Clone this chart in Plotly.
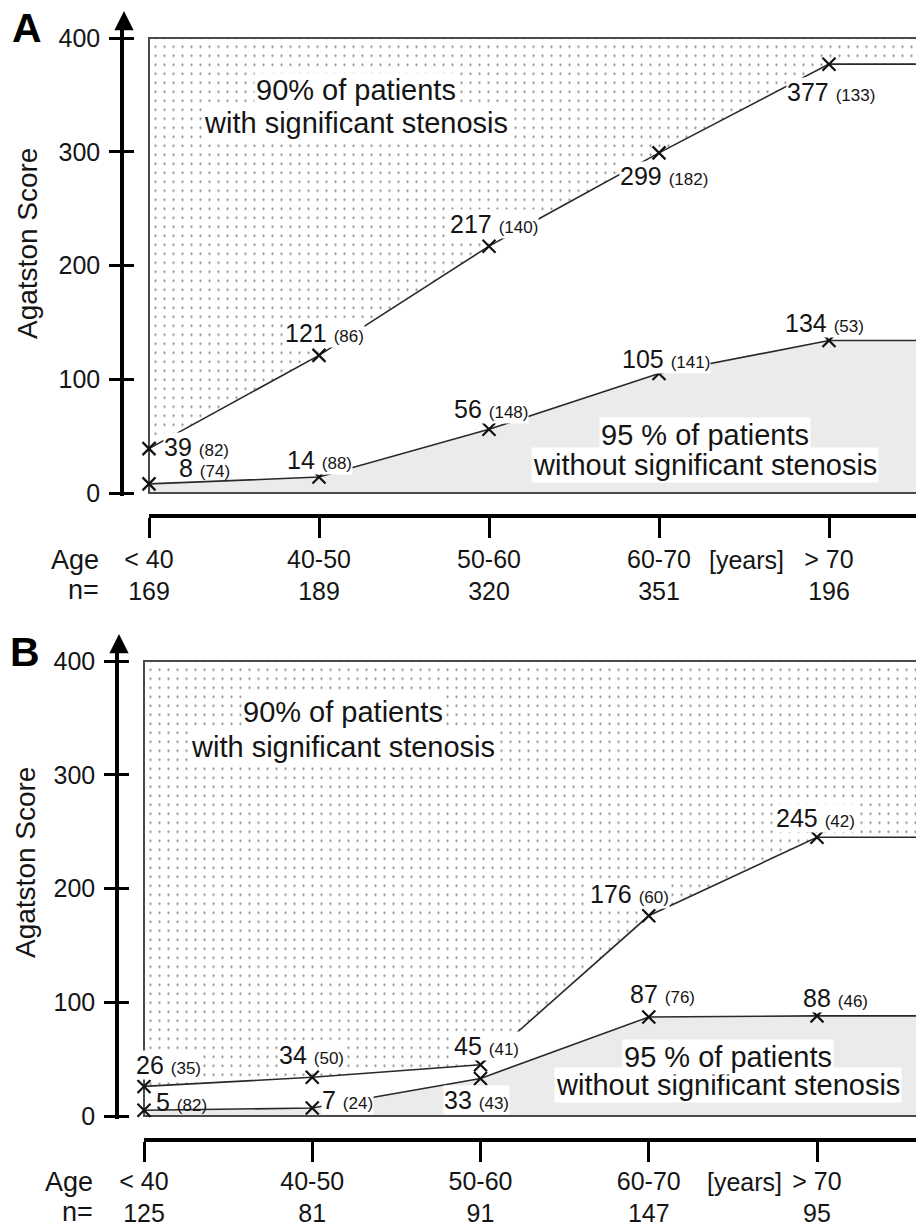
import plotly.graph_objects as go

W, H = 916, 1226

# ---------------- data ----------------
age_groups = ["< 40", "40-50", "50-60", "60-70", "> 70"]
n_a = [169, 189, 320, 351, 196]
n_b = [125, 81, 91, 147, 95]

# panel A: 90th percentile (with stenosis) and 95th percentile (without stenosis)
upper_a = [39, 121, 217, 299, 377]
upper_a_n = [82, 86, 140, 182, 133]
lower_a = [8, 14, 56, 105, 134]
lower_a_n = [74, 88, 148, 141, 53]

# panel B
upper_b = [26, 34, 45, 176, 245]
upper_b_n = [35, 50, 41, 60, 42]
lower_b = [5, 7, 33, 87, 88]
lower_b_n = [82, 24, 43, 76, 46]

y_ticks = [0, 100, 200, 300, 400]
Y_MAX = 400

# ---------------- layout config (pixels) ----------------
FONT = "Liberation Sans"
TXT = "#151515"
K = 1.1375  # px per score unit

panels = [
    dict(letter="A", upper=upper_a, upper_n=upper_a_n, lower=lower_a, lower_n=lower_a_n, n=n_a,
         x0=149, dx=170, axis=124, y0=493, bracket=516, row1=560, row2=590, agex=101,
         yearsx=746, letterxy=(27, 28), titlexy=(27, 244), arrow_tip=11, xlab_standoff=0,
         up_txt=(1.22, 354, 325), lo_txt=(3.27, 51, 24.6),
         off_up=[(14, 2), (-35, 22), (-40, 22), (-40, -23), (-43, -28)],
         off_lo=[(29, 16), (-33, 17), (-36, 20), (-38, 15), (-45, 18)],
         bg_up=[True, True, True, True, True], bg_lo=[False, True, True, True, True],
         xa="x", ya="y", yo="y3", xb="x3"),
    dict(letter="B", upper=upper_b, upper_n=upper_b_n, lower=lower_b, lower_n=lower_b_n, n=n_b,
         x0=144, dx=168.25, axis=119, y0=1116, bracket=1140, row1=1182, row2=1212, agex=95,
         yearsx=744, letterxy=(25, 652), titlexy=(25, 863), arrow_tip=634, xlab_standoff=-2,
         up_txt=(1.18, 355, 324), lo_txt=(3.47, 52, 27),
         off_up=[(-9, 21), (-34, 22), (-28, 19), (-60, 22), (-42, 19)],
         off_lo=[(11, 8), (9, 8), (-38, -22), (-20, 23), (-15, 18)],
         bg_up=[True, True, True, True, True], bg_lo=[False, True, True, True, True],
         xa="x2", ya="y2", yo="y4", xb="x4"),
]

fig = go.Figure()
annotations = []
layout = {}

def lname(ax):
    return ax[0] + "axis" + ax[1:]

for p in panels:
    x_lo = (p["axis"] - p["x0"]) / p["dx"]
    x_hi = (W - p["x0"]) / p["dx"]
    x_end = x_hi + 0.2
    y_lo, y_hi = -3, 412
    dom_top = 1 - (p["y0"] - y_hi * K) / H
    dom_bot = 1 - (p["y0"] - y_lo * K) / H
    xs = list(range(len(age_groups)))
    xa, ya = p["xa"], p["ya"]

    # top boundary (invisible) for the dotted region
    fig.add_trace(go.Scatter(x=[0, x_end], y=[Y_MAX, Y_MAX], mode="lines",
                             line=dict(width=0, color="rgba(0,0,0,0)"),
                             xaxis=xa, yaxis=ya, showlegend=False, hoverinfo="skip"))
    # upper curve with dotted fill above
    fig.add_trace(go.Scatter(x=xs + [x_end], y=p["upper"] + [p["upper"][-1]], mode="lines",
                             line=dict(color="#2a2a2a", width=1.6),
                             fill="tonexty", fillcolor="white",
                             fillpattern=dict(shape=".", fgcolor="#8a8a8a", bgcolor="white",
                                              size=9, solidity=0.05),
                             xaxis=xa, yaxis=ya, showlegend=False, hoverinfo="skip"))
    # lower curve with grey fill below
    fig.add_trace(go.Scatter(x=xs + [x_end], y=p["lower"] + [p["lower"][-1]], mode="lines",
                             line=dict(color="#2a2a2a", width=1.6),
                             fill="tozeroy", fillcolor="#ebebeb",
                             xaxis=xa, yaxis=ya, showlegend=False, hoverinfo="skip"))
    # frame of the plot box
    fig.add_trace(go.Scatter(x=[x_end, 0, 0, x_end], y=[Y_MAX, Y_MAX, 0, 0], mode="lines",
                             line=dict(color="#4a4a4a", width=2),
                             xaxis=xa, yaxis=ya, showlegend=False, hoverinfo="skip"))
    # markers
    fig.add_trace(go.Scatter(x=xs + xs, y=p["upper"] + p["lower"], mode="markers",
                             marker=dict(symbol="x-thin", size=13, color="#111",
                                         line=dict(width=2.2, color="#111")),
                             cliponaxis=False,
                             xaxis=xa, yaxis=ya, showlegend=False, hoverinfo="skip"))
    # helper traces so that the overlay y axis and the bracket x axis exist
    fig.add_trace(go.Scatter(x=[None], y=[None], xaxis=xa, yaxis=p["yo"],
                             showlegend=False, hoverinfo="skip"))
    fig.add_trace(go.Scatter(x=[None], y=[None], xaxis=p["xb"], yaxis=ya,
                             showlegend=False, hoverinfo="skip"))

    layout[lname(xa)] = dict(domain=[p["axis"] / W, 1], range=[x_lo, x_hi], visible=False,
                             anchor=ya, automargin=False)
    layout[lname(ya)] = dict(domain=[dom_bot, dom_top], range=[y_lo, y_hi], anchor=xa,
                             showline=True, linewidth=3.5, linecolor="black",
                             ticks="outside", ticklen=11, tickwidth=3, tickcolor="black",
                             tickvals=y_ticks, tickfont=dict(family=FONT, size=25, color=TXT),
                             ticklabelstandoff=4, automargin=False,
                             showgrid=False, zeroline=False)
    layout[lname(p["yo"])] = dict(overlaying=ya, anchor=xa, side="left", range=[y_lo, y_hi],
                                  ticks="inside", ticklen=10, tickwidth=3, tickcolor="black",
                                  tickvals=y_ticks, showticklabels=False, showline=False,
                                  showgrid=False, zeroline=False, automargin=False)
    layout[lname(p["xb"])] = dict(domain=[p["x0"] / W, 1], range=[0, x_hi], anchor="free",
                                  position=1 - p["bracket"] / H,
                                  showline=True, linewidth=3.5, linecolor="black",
                                  ticks="outside", ticklen=20, tickwidth=3, tickcolor="black",
                                  tickvals=xs,
                                  ticktext=[f"{g}<br>{n}" for g, n in zip(age_groups, p["n"])],
                                  tickfont=dict(family=FONT, size=25, color=TXT),
                                  ticklabelstandoff=p["xlab_standoff"],
                                  showgrid=False, zeroline=False, automargin=False)

    # axis arrow head
    annotations.append(dict(x=p["axis"] / W, y=1 - p["arrow_tip"] / H, xref="paper", yref="paper",
                            ax=0, ay=18, showarrow=True, arrowhead=2, arrowsize=1.1,
                            arrowwidth=3.5, arrowcolor="black", text=""))
    # panel letter
    lx, ly = p["letterxy"]
    annotations.append(dict(x=lx / W, y=1 - ly / H, xref="paper", yref="paper", showarrow=False,
                            text=f"<b>{p['letter']}</b>", xanchor="center", yanchor="middle",
                            font=dict(family=FONT, size=41, color="black")))
    # y title
    tx, ty = p["titlexy"]
    annotations.append(dict(x=tx / W, y=1 - ty / H, xref="paper", yref="paper", showarrow=False,
                            text="Agatston Score", textangle=-90, xanchor="center", yanchor="middle",
                            font=dict(family=FONT, size=28, color=TXT)))
    # Age / n= / [years]
    for txt, row in (("Age", p["row1"]), ("n=", p["row2"])):
        annotations.append(dict(x=p["agex"] / W, y=1 - row / H, xref="paper", yref="paper",
                                showarrow=False, text=txt, xanchor="right", yanchor="middle",
                                font=dict(family=FONT, size=27, color=TXT)))
    annotations.append(dict(x=p["yearsx"] / W, y=1 - p["row1"] / H, xref="paper", yref="paper",
                            showarrow=False, text="[years]", xanchor="center", yanchor="middle",
                            font=dict(family=FONT, size=25, color=TXT)))
    # region texts (second line first so the first line's white box sits on top)
    ux, uy1, uy2 = p["up_txt"]
    for t, yy in (("with significant stenosis", uy2), ("90% of patients", uy1)):
        annotations.append(dict(x=ux, y=yy, xref=xa, yref=ya, showarrow=False, text=t,
                                xanchor="center", yanchor="middle", bgcolor="white", borderpad=1,
                                font=dict(family=FONT, size=29, color=TXT)))
    lx2, ly1, ly2 = p["lo_txt"]
    for t, yy in (("without significant stenosis", ly2), ("95 % of patients", ly1)):
        annotations.append(dict(x=lx2, y=yy, xref=xa, yref=ya, showarrow=False, text=t,
                                xanchor="center", yanchor="middle", bgcolor="white", borderpad=1,
                                font=dict(family=FONT, size=29, color=TXT)))
    # data labels
    for vals, ns, offs, bgs in ((p["upper"], p["upper_n"], p["off_up"], p["bg_up"]),
                                (p["lower"], p["lower_n"], p["off_lo"], p["bg_lo"])):
        for i, (v, nn, (ox, oy), bg) in enumerate(zip(vals, ns, offs, bgs)):
            annotations.append(dict(x=i, y=v, xref=xa, yref=ya, showarrow=False,
                                    text=f"{v} <span style='font-size:17px'>({nn})</span>",
                                    xanchor="left", yanchor="middle", xshift=ox, yshift=oy,
                                    bgcolor="white" if bg else "rgba(0,0,0,0)", borderpad=0,
                                    font=dict(family=FONT, size=25, color=TXT)))

fig.update_layout(template="none", width=W, height=H, margin=dict(l=0, r=0, t=0, b=0, pad=0),
                  paper_bgcolor="white", plot_bgcolor="rgba(0,0,0,0)", showlegend=False,
                  annotations=annotations, **layout)

fig.write_html("out.html")
